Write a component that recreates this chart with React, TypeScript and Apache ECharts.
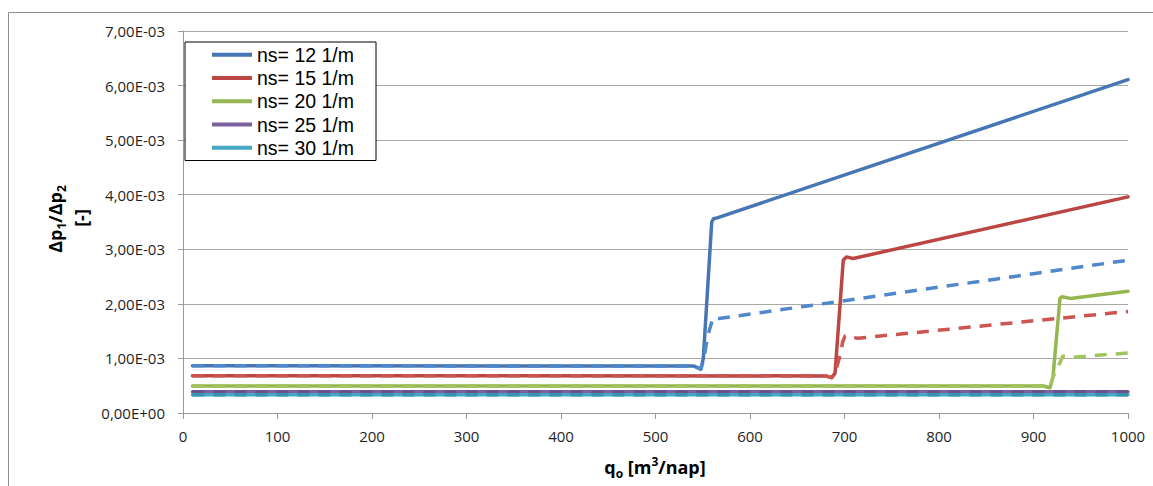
import React, { useEffect, useRef } from 'react';
import * as echarts from 'echarts';

// Legend / series names
const seriesNames = ['ns= 12 1/m', 'ns= 15 1/m', 'ns= 20 1/m', 'ns= 25 1/m', 'ns= 30 1/m'];
const solidColors = ['#4676b3', '#bb4643', '#95b651', '#7c5f9f', '#46a7c2'];
const dashColors = ['#5088cc', '#cc5552', '#a2c45e', '#6a508d', '#3a93ae'];

// Tick labels
const xTicks = [0, 100, 200, 300, 400, 500, 600, 700, 800, 900, 1000];
const yTickLabels = ['0,00E+00', '1,00E-03', '2,00E-03', '3,00E-03', '4,00E-03', '5,00E-03', '6,00E-03', '7,00E-03'];

// ns = 12 1/m
const ns12SolidX = [10, 540, 548, 550.6, 559.5, 561.5, 566, 1000];
const ns12SolidY = [0.865e-3, 0.862e-3, 0.805e-3, 1.0e-3, 3.5e-3, 3.56e-3, 3.58e-3, 6.11e-3];
const ns12DashX = [10, 540, 548, 551, 554.5, 557.5, 561, 567, 1000];
const ns12DashY = [0.865e-3, 0.862e-3, 0.805e-3, 0.98e-3, 1.34e-3, 1.55e-3, 1.75e-3, 1.73e-3, 2.8e-3];

// ns = 15 1/m
const ns15SolidX = [10, 680, 686.4, 690, 698.7, 702, 709, 1000];
const ns15SolidY = [0.683e-3, 0.68e-3, 0.647e-3, 0.73e-3, 2.8e-3, 2.86e-3, 2.83e-3, 3.96e-3];
const ns15DashX = [10, 680, 686.4, 690, 696, 698, 700.5, 714, 1000];
const ns15DashY = [0.683e-3, 0.68e-3, 0.647e-3, 0.73e-3, 1.1e-3, 1.3e-3, 1.41e-3, 1.37e-3, 1.86e-3];

// ns = 20 1/m
const ns20SolidX = [10, 910, 917.5, 920.6, 928, 930, 939, 1000];
const ns20SolidY = [0.495e-3, 0.494e-3, 0.463e-3, 0.66e-3, 2.1e-3, 2.13e-3, 2.1e-3, 2.23e-3];
const ns20DashX = [10, 910, 917.5, 920.6, 926, 931, 940, 1000];
const ns20DashY = [0.495e-3, 0.494e-3, 0.463e-3, 0.66e-3, 0.85e-3, 1.04e-3, 1.02e-3, 1.1e-3];

// ns = 25 1/m
const ns25SolidX = [10, 1000];
const ns25SolidY = [0.39e-3, 0.39e-3];
const ns25DashX = [10, 1000];
const ns25DashY = [0.39e-3, 0.39e-3];

// ns = 30 1/m
const ns30SolidX = [10, 1000];
const ns30SolidY = [0.335e-3, 0.335e-3];
const ns30DashX = [10, 1000];
const ns30DashY = [0.335e-3, 0.335e-3];

const solidXs = [ns12SolidX, ns15SolidX, ns20SolidX, ns25SolidX, ns30SolidX];
const solidYs = [ns12SolidY, ns15SolidY, ns20SolidY, ns25SolidY, ns30SolidY];
const dashXs = [ns12DashX, ns15DashX, ns20DashX, ns25DashX, ns30DashX];
const dashYs = [ns12DashY, ns15DashY, ns20DashY, ns25DashY, ns30DashY];

const zip = (xs: number[], ys: number[]) => xs.map((x, i) => [x, ys[i]]);

const FONT = '"Open Sans", "Noto Sans", sans-serif';
const LEGEND_FONT = '"Liberation Sans", Arial, sans-serif';

export default function App() {
  const ref = useRef<HTMLDivElement>(null);

  useEffect(() => {
    if (!ref.current) return;
    const chart = echarts.init(ref.current, undefined, { renderer: 'svg' });

    const solidSeries = seriesNames.map((name, i) => ({
      name,
      type: 'line',
      data: zip(solidXs[i], solidYs[i]),
      showSymbol: false,
      symbol: 'none',
      lineStyle: { color: solidColors[i], width: 3.5, join: 'round', cap: 'round' },
      itemStyle: { color: solidColors[i] },
      z: 2,
    }));
    const dashSeries = seriesNames.map((name, i) => ({
      name: name + ' (b)',
      type: 'line',
      data: zip(dashXs[i], dashYs[i]),
      showSymbol: false,
      symbol: 'none',
      lineStyle: { color: dashColors[i], width: 3.5, type: [12, 9], join: 'round' },
      itemStyle: { color: dashColors[i] },
      z: 3,
    }));

    chart.setOption({
      animation: false,
      backgroundColor: '#ffffff',
      grid: { left: 183, right: 25, top: 31, bottom: 73, containLabel: false },
      legend: {
        data: seriesNames,
        orient: 'vertical',
        left: 185,
        top: 42,
        padding: [1, 22, 1, 27],
        itemGap: 0,
        itemWidth: 40,
        itemHeight: 4,
        icon: 'rect',
        borderColor: '#000000',
        borderWidth: 1,
        backgroundColor: '#ffffff',
        textStyle: { fontFamily: LEGEND_FONT, fontSize: 19.5, color: '#000000', lineHeight: 23.3 },
      },
      xAxis: {
        type: 'value',
        min: 0,
        max: 1000,
        interval: 100,
        axisLine: { show: true, lineStyle: { color: '#9a9a9a', width: 1 } },
        axisTick: { show: true, length: 6, lineStyle: { color: '#9a9a9a' } },
        splitLine: { show: false },
        axisLabel: {
          margin: 15,
          fontFamily: FONT,
          fontSize: 15,
          color: '#1f1f1f',
          formatter: (v: number) => {
            const idx = xTicks.indexOf(Math.round(v));
            return idx >= 0 ? String(xTicks[idx]) : '';
          },
        },
      },
      yAxis: {
        type: 'value',
        min: 0,
        max: 0.007,
        interval: 0.001,
        axisLine: { show: true, lineStyle: { color: '#9a9a9a', width: 1 } },
        axisTick: { show: true, length: 5, lineStyle: { color: '#9a9a9a' } },
        splitLine: { show: true, lineStyle: { color: '#a8a8a8', width: 1 } },
        axisLabel: {
          margin: 18,
          fontFamily: FONT,
          fontSize: 15,
          color: '#1f1f1f',
          formatter: (v: number) => yTickLabels[Math.round(v / 0.001)] ?? '',
        },
      },
      graphic: [
        {
          type: 'rect',
          silent: true,
          z: -10,
          shape: { x: 8.5, y: 12.5, width: 1300, height: 700 },
          style: { fill: 'none', stroke: '#8e8e8e', lineWidth: 1 },
        },
        {
          type: 'text',
          x: 55,
          y: 219,
          rotation: Math.PI / 2,
          style: {
            text: '{b|Δp}{s|1}{b|/Δp}{s|2}',
            align: 'center',
            verticalAlign: 'middle',
            fill: '#000',
            rich: {
              b: { fontFamily: FONT, fontSize: 18, fontWeight: 'bold', lineHeight: 24, fill: '#000' },
              s: { fontFamily: FONT, fontSize: 12, fontWeight: 'bold', lineHeight: 12, verticalAlign: 'bottom', fill: '#000' },
            },
          },
        },
        {
          type: 'text',
          x: 81,
          y: 218,
          rotation: Math.PI / 2,
          style: {
            text: '[-]',
            align: 'center',
            verticalAlign: 'middle',
            fill: '#000',
            fontFamily: FONT,
            fontSize: 18,
            fontWeight: 'bold',
          },
        },
        {
          type: 'text',
          x: 655,
          y: 467,
          style: {
            text: '{b|q}{s|o}{b| [m}{t|3}{b|/nap]}',
            align: 'center',
            verticalAlign: 'middle',
            fill: '#000',
            rich: {
              b: { fontFamily: FONT, fontSize: 18, fontWeight: 'bold', lineHeight: 24, fill: '#000' },
              s: { fontFamily: FONT, fontSize: 12, fontWeight: 'bold', lineHeight: 12, verticalAlign: 'bottom', fill: '#000' },
              t: { fontFamily: FONT, fontSize: 12, fontWeight: 'bold', lineHeight: 12, verticalAlign: 'top', fill: '#000' },
            },
          },
        },
      ],
      series: [...solidSeries, ...dashSeries],
    });

    return () => chart.dispose();
  }, []);

  return (
    <div
      ref={ref}
      style={{ position: 'absolute', left: 0, top: 0, width: 1153, height: 486 }}
    />
  );
}
